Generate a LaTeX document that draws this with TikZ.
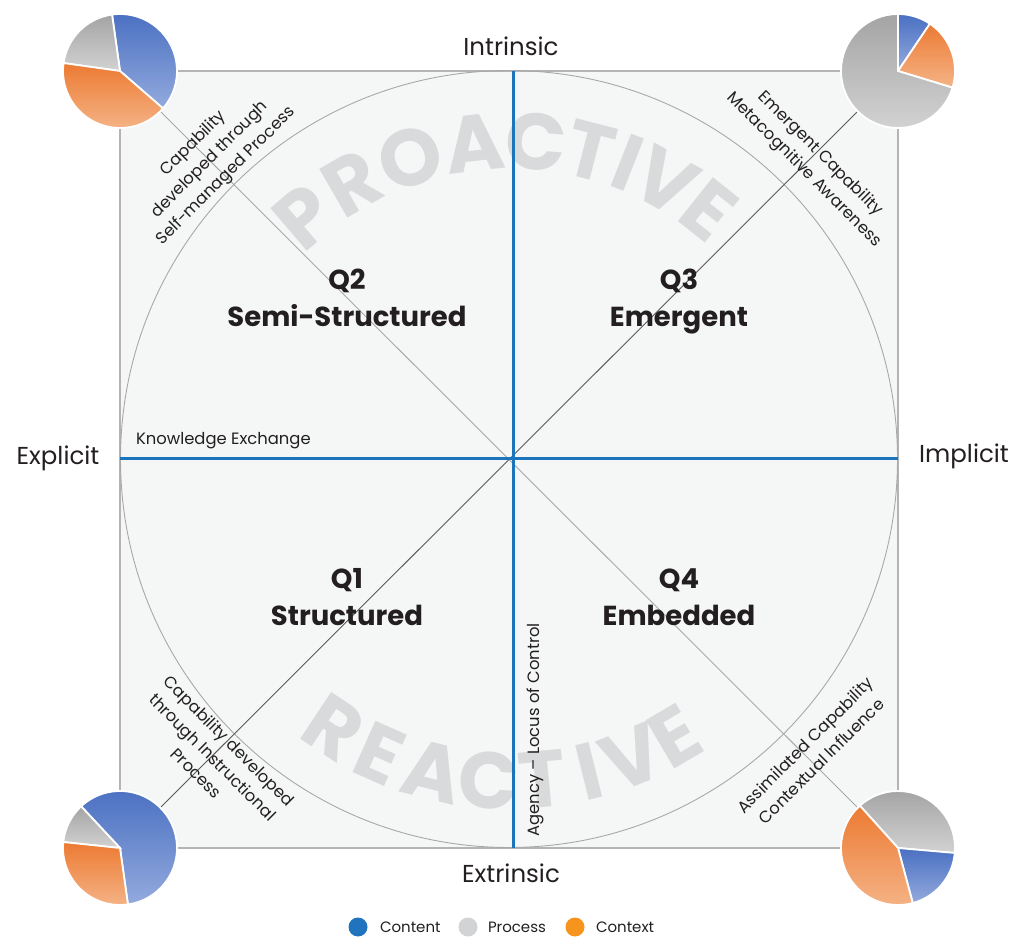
\documentclass[tikz,border=0pt]{standalone}
\usepackage{fontspec}
\setmainfont{Poppins}
\usetikzlibrary{calc}
\definecolor{axisblue}{HTML}{1C75BC}
\definecolor{panel}{HTML}{F5F7F7}
\definecolor{framegray}{HTML}{B4B4B4}
\definecolor{ringgray}{HTML}{A8A8A8}
\definecolor{lettergray}{HTML}{D9DADB}
\definecolor{inkgray}{HTML}{231F20}
\definecolor{blueA}{HTML}{4A70C2}
\definecolor{blueB}{HTML}{93AADD}
\definecolor{orangeA}{HTML}{EC7A32}
\definecolor{orangeB}{HTML}{F5B487}
\definecolor{grayA}{HTML}{A4A4A4}
\definecolor{grayB}{HTML}{D2D2D2}
\definecolor{keyblue}{HTML}{1F74BD}
\definecolor{keygray}{HTML}{D1D3D4}
\definecolor{keyorange}{HTML}{F7941D}
\begin{document}
\begin{tikzpicture}[
        x=1pt, y=1pt,
        every node/.style={inner sep=0pt, outer sep=0pt, text=inkgray},
        axis/.style={line width=3pt, axisblue},
        diag/.style={line width=0.9pt},
        pole/.style={font=\fontsize{24.5}{26}\selectfont},
        note/.style={font=\fontsize{16.4}{23}\selectfont, align=center},
        quad/.style={font=\bfseries\fontsize{27.5}{30}\selectfont, anchor=base},
        bigletter/.style={font=\bfseries\fontsize{80}{80}\selectfont, text=lettergray},
        slice/.style={draw=white, line width=1.8pt},
        blueslice/.style={top color=blueA, bottom color=blueB},
        orangeslice/.style={top color=orangeA, bottom color=orangeB},
        grayslice/.style={top color=grayA, bottom color=grayB},
        key/.style={font=\fontsize{15}{17}\selectfont, anchor=base west},
    ]
    \useasboundingbox (0,0) rectangle (1018,938);

    \coordinate (c) at (511,479);
    \coordinate (tl) at (120,867);
    \coordinate (tr) at (898,867);
    \coordinate (bl) at (120,90);
    \coordinate (br) at (898,90);
    \coordinate (w) at (120,479);
    \coordinate (e) at (898,479);
    \coordinate (n) at (513,867);
    \coordinate (s) at (513,90);

    \draw[framegray, fill=panel, line width=1.2pt] (bl) rectangle (tr);
    \draw[ringgray, line width=0.9pt] (509,479) circle (388.5);

    \foreach \l/\a [count=\i] in {P/130.5, R/120, O/108.5, A/96.5, C/85.5, T/75.5, I/68.5, V/61, E/51.5}
        \node[bigletter, rotate=\a-90] (pro\i) at ($(c)+(\a:318)$) {\l};
    \foreach \l/\a [count=\i] in {R/236.5, E/246, A/256, C/266, T/275.5, I/284, V/292, E/300.5}
        \node[bigletter, rotate=\a-270] (re\i) at ($(c)+(\a:322)$) {\l};

    \draw[diag, ringgray] (tl) -- (br);
    \draw[diag, black!65] (bl) -- (tr);
    \draw[axis] (w) -- (e);
    \draw[axis] (n) -- (s);

    \foreach \from/\to/\kind in {-41/98/blueslice, 98/172/grayslice, 172/319/orangeslice}
        \draw[slice, \kind] (tl) -- ++(\from:57) arc[start angle=\from, end angle=\to, radius=57] -- cycle;
    \foreach \from/\to/\kind in {56/90/blueslice, -17/56/orangeslice, 90/343/grayslice}
        \draw[slice, \kind] (tr) -- ++(\from:57) arc[start angle=\from, end angle=\to, radius=57] -- cycle;
    \foreach \from/\to/\kind in {-82/133/blueslice, 133/174/grayslice, 174/278/orangeslice}
        \draw[slice, \kind] (bl) -- ++(\from:57) arc[start angle=\from, end angle=\to, radius=57] -- cycle;
    \foreach \from/\to/\kind in {-5/132/grayslice, -75/-5/blueslice, 132/285/orangeslice}
        \draw[slice, \kind] (br) -- ++(\from:57) arc[start angle=\from, end angle=\to, radius=57] -- cycle;

    \node[pole] (intrinsic) at (511,892) {Intrinsic};
    \node[pole] (extrinsic) at (511,65) {Extrinsic};
    \node[pole] (explicit) at (58,480) {Explicit};
    \node[pole] (implicit) at (964,482) {Implicit};

    \node[quad] (q2) at (347,648) {Q2};
    \node[quad] (semi) at (347,611) {Semi-Structured};
    \node[quad] (q3) at (679,648) {Q3};
    \node[quad] (emergent) at (679,611) {Emergent};
    \node[quad] (q1) at (347,349) {Q1};
    \node[quad] (structured) at (347,312) {Structured};
    \node[quad] (q4) at (679,349) {Q4};
    \node[quad] (embedded) at (679,312) {Embedded};

    \node[note, anchor=base west] (exchange) at (136,493) {Knowledge Exchange};
    \node[note, rotate=90] (agency) at (535,208) {Agency -- Locus of Control};

    \node[note, rotate=45] (tlnote) at (210,778) {Capability\\developed through\\Self-managed Process};
    \node[note, rotate=-45] (trnote) at (812,776) {Emergent Capability\\Metacognitive Awareness};
    \node[note, rotate=-45] (blnote) at (213,181) {Capability developed\\through Instructional\\Process};
    \node[note, rotate=45] (brnote) at (813,185) {Assimilated Capability\\Contextual Influence};

    \fill[keyblue] (358,11) circle (9.5);
    \fill[keygray] (468,11) circle (9.5);
    \fill[keyorange] (575,11) circle (9.5);
    \node[key] (content) at (380,6) {Content};
    \node[key] (process) at (488,6) {Process};
    \node[key] (context) at (596,6) {Context};
\end{tikzpicture}
\end{document}
